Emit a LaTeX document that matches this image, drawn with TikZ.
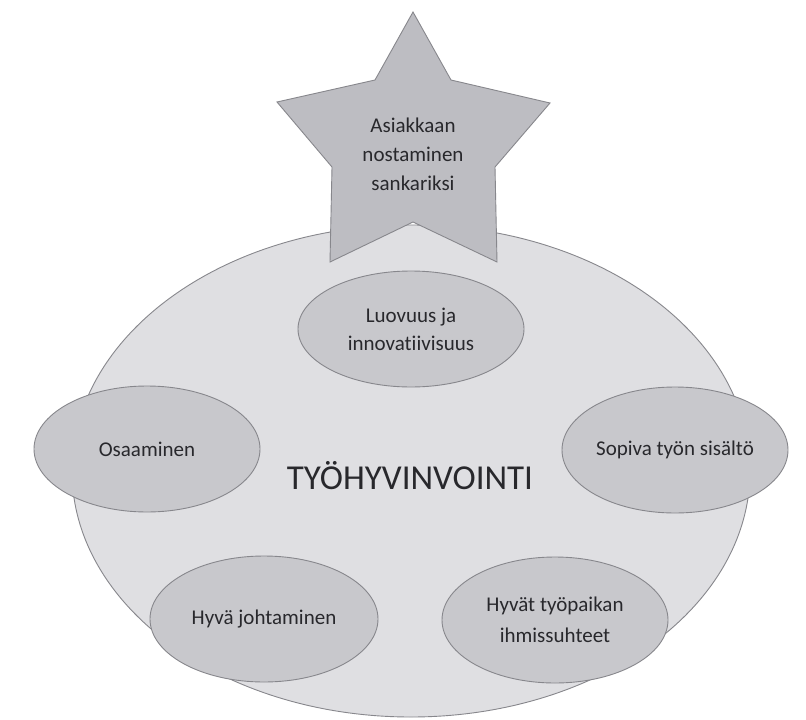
\documentclass[tikz,border=0pt]{standalone}
\usepackage{fontspec}
\setmainfont{Carlito}[Ligatures={NoCommon}]
\usetikzlibrary{shapes.geometric}
\definecolor{bigfill}{RGB}{223,223,226}
\definecolor{smallfill}{RGB}{200,200,204}
\definecolor{starfill}{RGB}{189,189,194}
\definecolor{edgegray}{RGB}{135,135,140}
\definecolor{txt}{RGB}{40,40,44}
\begin{document}
\begin{tikzpicture}[x=1pt,y=-1pt,
  bigell/.style={ellipse, draw=edgegray, line width=0.9pt, fill=bigfill, inner sep=0pt,
    minimum width=678pt, minimum height=492pt},
  smallell/.style={ellipse, draw=edgegray, line width=0.9pt, fill=smallfill, inner sep=0pt,
    minimum width=226pt, minimum height=126pt, text=txt, font=\fontsize{21}{28}\selectfont,
    align=center},
  lbl/.style={text=txt, inner sep=0pt, align=center},
  starshape/.style={draw=edgegray, line width=0.9pt, fill=starfill, line join=miter}]
\useasboundingbox (0,0) rectangle (806,720);
\fill[white] (0,0) rectangle (806,720);
% main ellipse
\node[bigell] (main) at (411,471) {};
% star
\coordinate (sTop) at (413,12);
\coordinate (sUR) at (451,80);
\coordinate (sRT) at (550,103);
\coordinate (sLR) at (495,167);
\coordinate (sBR) at (497,262);
\coordinate (sBI) at (413,222);
\coordinate (sBL) at (330,262);
\coordinate (sLL) at (332,167);
\coordinate (sLT) at (277,102);
\coordinate (sUL) at (375,80);
\draw[starshape] (sTop) -- (sUR) -- (sRT) -- (sLR) -- (sBR) -- (sBI) -- (sBL) -- (sLL) -- (sLT) -- (sUL) -- cycle;
\node[lbl, font=\fontsize{21}{29}\selectfont] (starlabel) at (413,154) {Asiakkaan\\nostaminen\\sankariksi};
% inner ellipses
\node[smallell, minimum height=116pt] (luovuus) at (411,329) {Luovuus ja\\innovatiivisuus};
\node[smallell] (osaaminen) at (147,449) {Osaaminen};
\node[smallell] (sopiva) at (675,450) {Sopiva työn sisältö};
\node[smallell, minimum width=228pt] (johtaminen) at (264,619) {Hyvä johtaminen};
\node[smallell, font=\fontsize{21}{31}\selectfont] (ihmissuhteet) at (555,620) {Hyvät työpaikan\\ihmissuhteet};
% central label
\node[lbl, font=\fontsize{35}{40}\selectfont] (mainlabel) at (410,476) {TYÖHYVINVOINTI};
\end{tikzpicture}
\end{document}
